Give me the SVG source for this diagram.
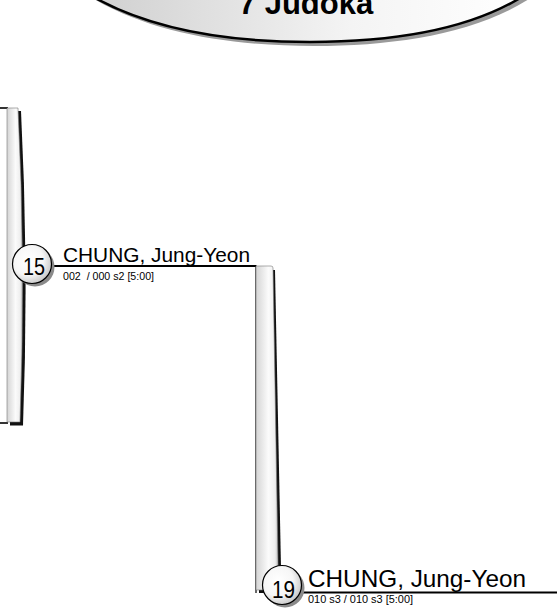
<svg xmlns="http://www.w3.org/2000/svg" width="557" height="608" viewBox="0 0 557 608">
<defs>
<linearGradient id="gTitle" x1="0" y1="0" x2="1" y2="0">
<stop offset="0" stop-color="#cfcfcf"/>
<stop offset="0.6" stop-color="#f4f4f4"/>
<stop offset="1" stop-color="#ffffff"/>
</linearGradient>
<linearGradient id="gBar" x1="0" y1="0" x2="1" y2="0">
<stop offset="0" stop-color="#d4d4d4"/>
<stop offset="0.55" stop-color="#fbfbfb"/>
<stop offset="0.85" stop-color="#eeeeee"/>
<stop offset="1" stop-color="#b5b5b5"/>
</linearGradient>
<radialGradient id="gCircle" cx="0.4" cy="0.4" r="0.65">
<stop offset="0" stop-color="#ffffff"/>
<stop offset="0.6" stop-color="#f6f6f6"/>
<stop offset="1" stop-color="#c4c4c4"/>
</radialGradient>
</defs>
<style>
.name{font-family:"Liberation Sans",Arial,sans-serif;fill:#000}
.score{font-family:"Liberation Sans",Arial,sans-serif;font-size:10px;fill:#000}
.num{font-family:"Liberation Sans",Arial,sans-serif;font-size:24px;fill:#000;text-anchor:middle}
.circ{fill:url(#gCircle);stroke:#000;stroke-width:1.2}
.csh{fill:#8a8a8a}
.bar{fill:url(#gBar);stroke:#777;stroke-width:0.6}
.bsh{fill:#111}
.wire{stroke:#000;fill:none}
</style>

<g id="title">
<path d="M90,-5 C150,30 230,42 310,42 C390,42 470,30 525,-5 L525,-30 L90,-30 Z" transform="translate(4,4)" fill="#9a9a9a"/>
<path d="M90,-5 C150,30 230,42 310,42 C390,42 470,30 525,-5 L525,-30 L90,-30 Z" fill="url(#gTitle)" stroke="#000" stroke-width="2.5"/>
<text x="306" y="14" font-family="'Liberation Sans',Arial,sans-serif" font-size="31" font-weight="bold" text-anchor="middle">7 Judoka</text>
</g>

<g id="connectors">
<line class="wire" x1="0" y1="108" x2="8" y2="108" stroke-width="1.6"/>
<line class="wire" x1="0" y1="423" x2="8" y2="423" stroke-width="1.6"/>
<line class="wire" x1="45" y1="266" x2="256.5" y2="266" stroke-width="2"/>
<line class="wire" x1="256" y1="266" x2="256" y2="593" stroke-width="1.2"/>
<line class="wire" x1="295" y1="592.5" x2="557" y2="592.5" stroke-width="2"/>
</g>

<g id="bar1">
<path class="bsh" d="M10,111 L21,111 Q29,268 23,425.5 L10,425.5 Z"/>
<path class="bar" d="M7,108 L18,108 Q26,265 20,422 L7,422 Z"/>
</g>

<g id="bar2">
<path class="bsh" d="M259,270 L275,270 L281.5,593 L259,593 Z"/>
<path class="bar" d="M256,266 L271,266 Q273,266 273,268 L278.5,590 L256,590 Z"/>
</g>

<g id="node15">
<circle class="csh" cx="35" cy="267" r="19.5"/>
<circle class="circ" cx="32" cy="264" r="19.5"/>
<text class="num" x="34" y="275" textLength="22" lengthAdjust="spacingAndGlyphs">15</text>
<text class="name" x="63" y="262" font-size="20.5" textLength="187" lengthAdjust="spacingAndGlyphs">CHUNG, Jung-Yeon</text>
<text class="score" x="63" y="280" xml:space="preserve" textLength="91" lengthAdjust="spacingAndGlyphs">002  / 000 s2 [5:00]</text>
</g>

<g id="node19">
<circle class="csh" cx="285" cy="588" r="19.5"/>
<circle class="circ" cx="282" cy="585" r="19.5"/>
<text class="num" x="283.5" y="598" textLength="23" lengthAdjust="spacingAndGlyphs">19</text>
<text class="name" x="308" y="587" font-size="24" textLength="218" lengthAdjust="spacingAndGlyphs">CHUNG, Jung-Yeon</text>
<text class="score" x="308" y="603" textLength="105" lengthAdjust="spacingAndGlyphs">010 s3 / 010 s3 [5:00]</text>
</g>
</svg>
